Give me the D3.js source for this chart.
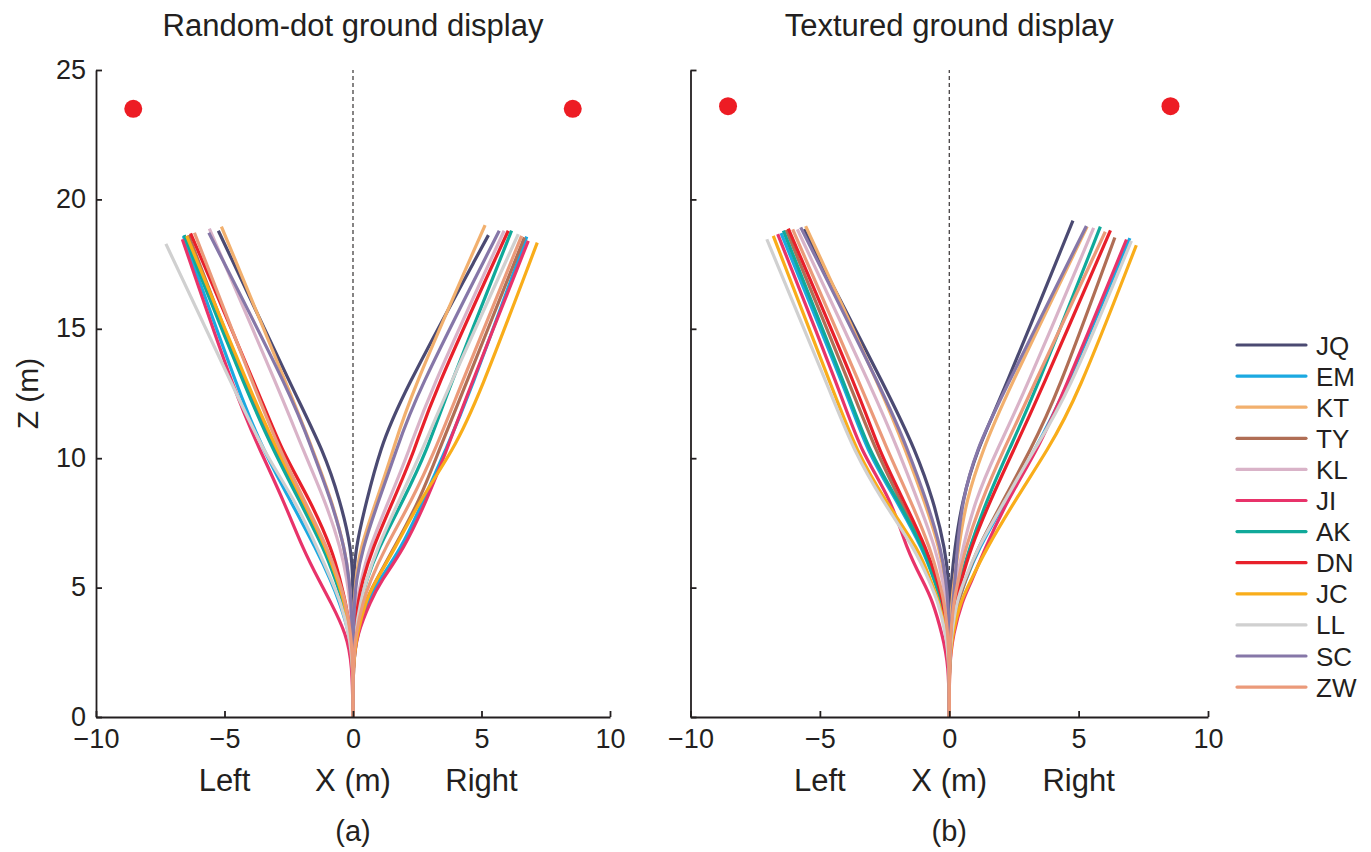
<!DOCTYPE html>
<html>
<head>
<meta charset="utf-8">
<script src="https://cdn.jsdelivr.net/npm/d3@7"></script>
<style>
  body { margin: 0; background: #fff; }
  svg { font-family: "Liberation Sans", Arial, sans-serif; }
</style>
</head>
<body>
<div id="chart"></div>
<script>
// subjects and their colours (legend order)
let subjects = ['JQ', 'EM', 'KT', 'TY', 'KL', 'JI', 'AK', 'DN', 'JC', 'LL', 'SC', 'ZW'];
let colors = ['#4b4a72', '#1ba9e1', '#f2b06e', '#b06e55', '#d9b3c8', '#e8336a',
  '#10a99a', '#e8202a', '#f9ad1a', '#d0d0d0', '#8677a8', '#eb9a7a'];

// depth levels (m) where lateral position is read
let zLevels = [0, 2, 3.2, 4.5, 5.2, 6.45, 8.38, 10.32, 12.25];

// (a) random-dot ground, left target
let aLeftX = [
  [0, 0, 0, 0, -0.01, -0.05, -0.5, -1.17, -2.14],
  [0, 0, -0.12, -0.55, -0.83, -1.41, -2.45, -3.49, -4.33],
  [0, 0, -0.02, -0.08, -0.15, -0.3, -0.83, -1.56, -2.33],
  [0, 0, -0.1, -0.35, -0.6, -1.05, -2.0, -3.0, -3.95],
  [0, 0, -0.03, -0.12, -0.22, -0.45, -1.09, -1.95, -2.71],
  [0, -0.03, -0.25, -0.9, -1.28, -1.93, -2.71, -3.62, -4.5],
  [0, 0, -0.1, -0.4, -0.65, -1.1, -2.1, -3.1, -4.0],
  [0, 0, -0.08, -0.3, -0.48, -0.8, -1.67, -2.79, -3.55],
  [0, 0, -0.1, -0.35, -0.58, -1.0, -1.95, -2.95, -3.85],
  [0, 0, -0.15, -0.5, -0.8, -1.35, -2.26, -3.51, -4.42],
  [0, 0, -0.02, -0.08, -0.14, -0.3, -0.85, -1.6, -2.3],
  [0, 0, -0.08, -0.3, -0.52, -0.95, -1.9, -2.85, -3.65]
];
let aLeftEnd = [[-5.24, 18.79], [-6.6, 18.59], [-5.12, 18.95], [-6.4, 18.62], [-5.59, 18.87], [-6.64, 18.46],
  [-6.57, 18.62], [-6.32, 18.69], [-6.47, 18.59], [-7.28, 18.28], [-5.61, 18.71], [-6.17, 18.71]];

// (a) random-dot ground, right target
let aRightX = [
  [0, 0, 0, 0, 0.02, 0.08, 0.53, 1.05, 1.8],
  [0, 0, 0.15, 0.6, 0.95, 1.85, 2.75, 3.6, 4.45],
  [0, 0, 0.01, 0.05, 0.1, 0.25, 0.92, 1.57, 2.15],
  [0, 0, 0.1, 0.5, 0.85, 1.55, 2.6, 3.35, 4.15],
  [0, 0, 0.04, 0.15, 0.3, 0.6, 1.4, 2.2, 2.85],
  [0, 0, 0.15, 0.7, 1.05, 1.96, 2.87, 3.65, 4.36],
  [0, 0, 0.07, 0.3, 0.5, 0.95, 1.96, 2.89, 3.55],
  [0, 0, 0.05, 0.2, 0.35, 0.73, 1.57, 2.41, 3.02],
  [0, 0, 0.15, 0.5, 0.85, 1.6, 2.61, 3.9, 4.85],
  [0, 0, 0.08, 0.3, 0.5, 0.9, 1.8, 2.7, 3.5],
  [0, 0, 0.01, 0.06, 0.12, 0.35, 1.0, 1.7, 2.35],
  [0, 0, 0.1, 0.4, 0.65, 1.2, 2.3, 3.2, 3.97]
];
let aRightEnd = [[5.27, 18.62], [6.76, 18.56], [5.14, 19.01], [6.67, 18.53], [5.88, 18.79], [6.82, 18.4],
  [6.17, 18.79], [6.04, 18.79], [7.17, 18.33], [6.43, 18.66], [5.69, 18.79], [6.56, 18.59]];

// (b) textured ground, left target
let bLeftX = [
  [0, 0, 0, 0, -0.02, -0.15, -0.61, -1.32, -2.22],
  [0, 0, -0.08, -0.3, -0.55, -1.0, -2.05, -3.2, -3.85],
  [0, 0, -0.02, -0.08, -0.15, -0.35, -0.97, -1.7, -2.45],
  [0, 0, -0.08, -0.28, -0.5, -0.95, -1.9, -2.85, -3.6],
  [0, 0, -0.03, -0.12, -0.24, -0.5, -1.22, -1.98, -2.78],
  [0, -0.02, -0.27, -0.65, -0.99, -1.64, -2.22, -3.45, -4.09],
  [0, 0, -0.08, -0.3, -0.55, -0.95, -2.0, -3.12, -3.8],
  [0, 0, -0.06, -0.25, -0.45, -0.85, -1.77, -2.73, -3.38],
  [0, 0, -0.1, -0.4, -0.7, -1.15, -2.5, -3.6, -4.35],
  [0, 0, -0.12, -0.45, -0.75, -1.3, -2.6, -3.7, -4.47],
  [0, 0, -0.01, -0.05, -0.12, -0.3, -0.88, -1.6, -2.4],
  [0, 0, -0.05, -0.2, -0.38, -0.7, -1.5, -2.4, -3.18]
];
let bLeftEnd = [[-5.62, 18.85], [-6.5, 18.7], [-5.55, 18.97], [-6.3, 18.82], [-5.87, 18.84], [-6.63, 18.66],
  [-6.41, 18.79], [-6.22, 18.87], [-6.8, 18.59], [-7.05, 18.46], [-5.74, 18.92], [-6.05, 18.84]];

// (b) textured ground, right target
let bRightX = [
  [0, 0, 0.01, 0.04, 0.08, 0.2, 0.5, 1.07, 1.97],
  [0, 0, 0.08, 0.35, 0.6, 1.1, 2.2, 3.3, 4.35],
  [0, 0, 0.03, 0.1, 0.18, 0.35, 0.65, 1.3, 2.1],
  [0, 0, 0.08, 0.35, 0.6, 1.05, 2.1, 3.13, 4.1],
  [0, 0, 0.04, 0.15, 0.27, 0.5, 1.0, 1.84, 2.78],
  [0, 0, 0.15, 0.5, 0.85, 1.35, 2.25, 3.4, 4.3],
  [0, 0, 0.05, 0.22, 0.4, 0.75, 1.45, 2.3, 3.2],
  [0, 0, 0.06, 0.25, 0.45, 0.8, 1.59, 2.49, 3.39],
  [0, 0, 0.12, 0.45, 0.8, 1.4, 2.55, 3.8, 4.9],
  [0, 0, 0.08, 0.3, 0.55, 1.05, 2.17, 3.26, 4.5],
  [0, 0, 0.05, 0.15, 0.22, 0.3, 0.5, 1.05, 1.95],
  [0, 0, 0.05, 0.18, 0.33, 0.6, 1.25, 2.1, 3.0]
];
let bRightEnd = [[4.78, 19.18], [6.98, 18.5], [5.33, 18.95], [6.4, 18.53], [5.58, 18.9], [6.85, 18.45],
  [5.84, 18.95], [6.23, 18.8], [7.23, 18.23], [7.04, 18.4], [5.3, 18.97], [6.03, 18.75]];

// target positions (x, z)
let aTargets = [[-8.55, 23.5], [8.55, 23.5]];
let bTargets = [[-8.55, 23.6], [8.55, 23.6]];

let xTicks = [-10, -5, 0, 5, 10];
let zTicks = [0, 5, 10, 15, 20, 25];

let width = 1371;
let height = 852;
let ink = '#231f20';

let svg = d3.select('#chart').append('svg')
  .attr('width', width)
  .attr('height', height);

let y = d3.scaleLinear().domain([0, 25]).range([717, 70]);

let drawPanel = (x0, x1, title, tag, leftX, leftEnd, rightX, rightEnd, targets, showZLabels) => {
  let x = d3.scaleLinear().domain([-10, 10]).range([x0, x1]);
  let g = svg.append('g');

  // dashed midline
  g.append('line')
    .attr('x1', x(0)).attr('x2', x(0))
    .attr('y1', y(0)).attr('y2', y(25))
    .attr('stroke', ink)
    .attr('stroke-width', 1.1)
    .attr('stroke-dasharray', '4,3');

  let line = d3.line()
    .x(d => x(d[0]))
    .y(d => y(d[1]))
    .curve(d3.curveBasis);

  let track = (xs, end) => zLevels.map((z, i) => [xs[i], z]).concat([end]);

  subjects.forEach((s, i) => {
    [track(leftX[i], leftEnd[i]), track(rightX[i], rightEnd[i])].forEach(pts => {
      g.append('path')
        .attr('d', line(pts))
        .attr('fill', 'none')
        .attr('stroke', colors[i])
        .attr('stroke-width', 3.2)
        .attr('stroke-linecap', 'butt');
    });
  });

  // targets
  g.selectAll('circle.target')
    .data(targets)
    .enter().append('circle')
    .attr('class', 'target')
    .attr('cx', d => x(d[0]))
    .attr('cy', d => y(d[1]))
    .attr('r', 9)
    .attr('fill', '#ed1c24');

  // axes
  let xAxis = d3.axisBottom(x).tickValues(xTicks).tickSizeInner(-6).tickSizeOuter(0).tickPadding(12);
  let gx = g.append('g').attr('transform', 'translate(0,' + y(0) + ')').call(xAxis);

  let yAxis = d3.axisLeft(y).tickValues(zTicks).tickSizeInner(-6).tickSizeOuter(0).tickPadding(10);
  if (!showZLabels) yAxis.tickFormat('');
  let gy = g.append('g').attr('transform', 'translate(' + x0 + ',0)').call(yAxis);

  [gx, gy].forEach(a => {
    a.select('.domain').attr('stroke', ink).attr('stroke-width', 1.8);
    a.selectAll('.tick line').attr('stroke', ink).attr('stroke-width', 1.8);
    a.selectAll('.tick text')
      .attr('fill', ink)
      .style('font-size', '27px')
      .style('font-family', '"Liberation Sans", Arial, sans-serif');
  });
  gy.selectAll('.tick text').attr('dy', '0.3em');

  // titles and labels
  g.append('text')
    .attr('x', x(0)).attr('y', 36)
    .attr('text-anchor', 'middle')
    .style('font-size', '31px')
    .attr('fill', ink)
    .text(title);

  let labels = [['Left', -5], ['X (m)', 0], ['Right', 5]];
  labels.forEach(l => {
    g.append('text')
      .attr('x', x(l[1])).attr('y', 791)
      .attr('text-anchor', 'middle')
      .style('font-size', '31px')
      .attr('fill', ink)
      .text(l[0]);
  });

  g.append('text')
    .attr('x', x(0)).attr('y', 841)
    .attr('text-anchor', 'middle')
    .style('font-size', '29px')
    .attr('fill', ink)
    .text(tag);
};

drawPanel(96, 610, 'Random-dot ground display', '(a)', aLeftX, aLeftEnd, aRightX, aRightEnd, aTargets, true);
drawPanel(690.5, 1208, 'Textured ground display', '(b)', bLeftX, bLeftEnd, bRightX, bRightEnd, bTargets, false);

// y label
svg.append('text')
  .attr('transform', 'translate(38,' + y(12.5) + ') rotate(-90)')
  .attr('text-anchor', 'middle')
  .style('font-size', '30px')
  .attr('fill', ink)
  .text('Z (m)');

// legend
let legend = svg.append('g');
subjects.forEach((s, i) => {
  let ly = 345 + i * 31.1;
  legend.append('line')
    .attr('x1', 1237).attr('x2', 1306)
    .attr('y1', ly).attr('y2', ly)
    .attr('stroke', colors[i])
    .attr('stroke-width', 3.2)
    .attr('stroke-linecap', 'round');
  legend.append('text')
    .attr('x', 1316).attr('y', ly + 9.5)
    .style('font-size', '26px')
    .attr('fill', ink)
    .text(s);
});
</script>
</body>
</html>
